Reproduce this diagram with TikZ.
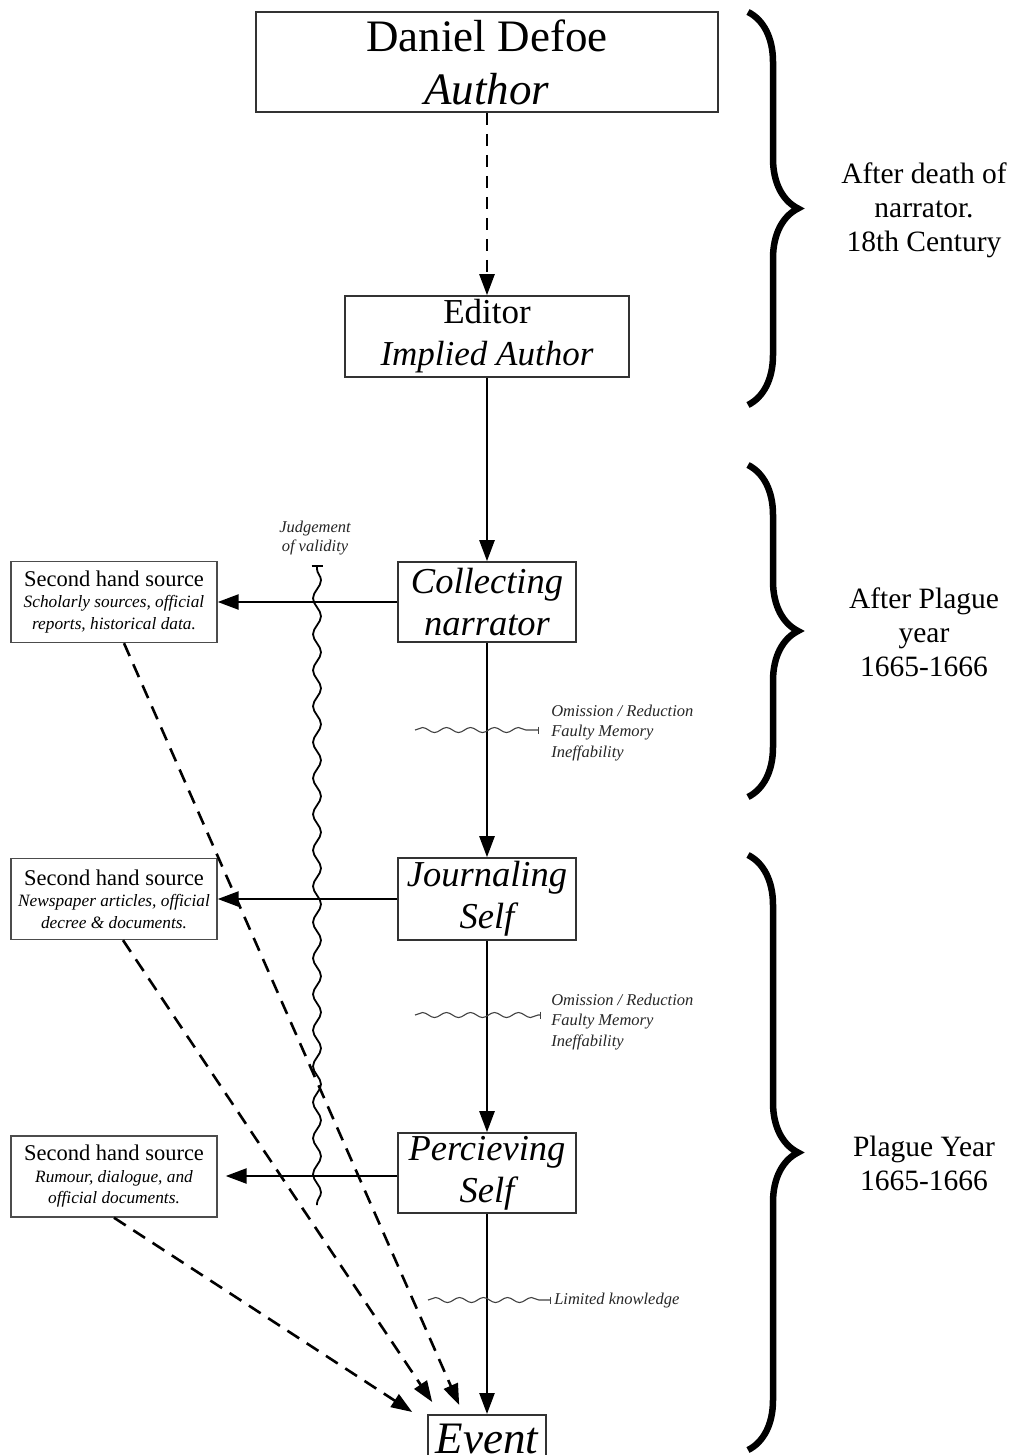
\documentclass[tikz,border=0pt]{standalone}
\usepackage{fontspec}
\setmainfont{Liberation Serif}
\usetikzlibrary{arrows.meta,decorations.pathmorphing,decorations.pathreplacing,calc}
\newcommand\srcnote[1]{{\fontsize{17.3}{20}\selectfont\itshape #1}}

\begin{document}
\begin{tikzpicture}[x=1pt, y=-1pt, >={Triangle[length=21pt,width=15pt]}, line width=2.5pt]
        \tikzset{box/.style={draw=black!80, line width=1.6pt, inner sep=0pt, align=center},
                 stagebox/.style={box, minimum width=178pt, minimum height=80pt, font=\fontsize{36.5}{42}\selectfont\itshape},
                 srcbox/.style={box, draw=black!70, line width=1.4pt, minimum width=206pt, minimum height=81pt, font=\fontsize{22.5}{21.5}\selectfont},
                 note/.style={align=left, anchor=west, inner sep=0pt, font=\fontsize{16.5}{20.5}\selectfont\itshape, text=black!85},
                 era/.style={align=center, font=\fontsize{29.5}{34}\selectfont},
                 loss/.style={draw=black!75, line width=1.1pt, decorate, decoration={snake, segment length=24pt, amplitude=2.5pt, post length=3pt}, -{Bar[width=7pt,line width=1.1pt]}},
                 validity/.style={line width=1.8pt, decorate, decoration={snake, segment length=36pt, amplitude=4pt, pre length=4pt}, {Bar[width=11pt,line width=1.8pt]}-},
                 hearsay/.style={->, dash pattern=on 14pt off 9pt, line width=2.6pt},
                 period/.style={line width=6.5pt, decorate, decoration={brace, amplitude=50pt}}}
        \useasboundingbox (0,0) rectangle (1010,1455);
        % narrative levels
        \node[box, minimum width=462pt, minimum height=100pt, font=\fontsize{45}{53}\selectfont] (defoe) at (487,62) {Daniel Defoe\\\textit{Author}};
        \node[box, minimum width=284pt, minimum height=81pt, font=\fontsize{35}{42}\selectfont] (editor) at (487,336.5) {Editor\\\textit{Implied Author}};
        \node[stagebox] (collect) at (487,602) {Collecting\\narrator};
        \node[stagebox, minimum height=82pt] (journal) at (487,899) {Journaling\\Self};
        \node[stagebox] (perceive) at (487,1173) {Percieving\\Self};
        \node[box, anchor=north, minimum width=118pt, minimum height=60pt, text height=31pt, text depth=14pt, font=\fontsize{45}{53}\selectfont\itshape] (event) at (487,1414) {Event};
        % second hand sources
        \node[srcbox] (src1) at (114,602) {Second hand source\\\srcnote{Scholarly sources, official}\\\srcnote{reports, historical data.}};
        \node[srcbox] (src2) at (114,899) {Second hand source\\\srcnote{Newspaper articles, official}\\\srcnote{decree \& documents.}};
        \node[srcbox] (src3) at (114,1176.5) {Second hand source\\\srcnote{Rumour, dialogue, and}\\\srcnote{official documents.}};
        \draw[->, dash pattern=on 12pt off 9pt] (defoe) -- (editor);
        \draw[->] (editor) -- (collect);
        \draw[->] (collect) -- (journal);
        \draw[->] (journal) -- (perceive);
        \draw[->] (perceive) -- (event);
        \draw[->] (collect.west) -- (src1.east);
        \draw[->] (journal.west) -- (src2.east);
        \draw[->, shorten >=8pt] ([yshift=-3pt]perceive.west) -- ([yshift=-3pt]perceive.west -| src3.east);
        \draw[hearsay] ([xshift=10pt]src1.south) -- ($(event.north west)+(32,-9)$);
        \draw[hearsay] ([xshift=9pt]src2.south) -- ($(event.north west)+(5,-12)$);
        \draw[hearsay] (src3.south) -- ($(event.north west)+(-15,-2)$);
        % judgement of validity
        \node[align=center, inner sep=0pt, font=\fontsize{16.5}{19}\selectfont\itshape, text=black!85] (judge) at (315,538) {Judgement\\of validity};
        \coordinate (vtop) at (317,565);
        \coordinate (vbot) at (317,1205);
        \draw[validity] (vtop) -- (vbot);
        % losses between levels
        \coordinate (w1a) at (415,730); \coordinate (w1b) at (539,730);
        \coordinate (w2a) at (415,1015); \coordinate (w2b) at (541,1015);
        \coordinate (w3a) at (428,1300); \coordinate (w3b) at (551,1300);
        \draw[loss] (w1a) -- (w1b);
        \draw[loss] (w2a) -- (w2b);
        \draw[loss] (w3a) -- (w3b);
        \node[note] (omit1) at (550,733) {Omission / Reduction\\Faulty Memory\\Ineffability};
        \node[note] (omit2) at (550,1022) {Omission / Reduction\\Faulty Memory\\Ineffability};
        \node[note] (limit) at (553,1301) {Limited knowledge};
        % periods
        \draw[period] (748,12) -- (748,405);
        \draw[period] (748,465) -- (748,797);
        \draw[period] (748,855) -- (748,1450);
        \node[era] (late) at (924,210) {After death of\\narrator.\\18th Century};
        \node[era] (after) at (924,632) {After Plague\\year\\1665-1666};
        \node[era] (plague) at (924,1163) {Plague Year\\1665-1666};
    \end{tikzpicture}
\end{document}
